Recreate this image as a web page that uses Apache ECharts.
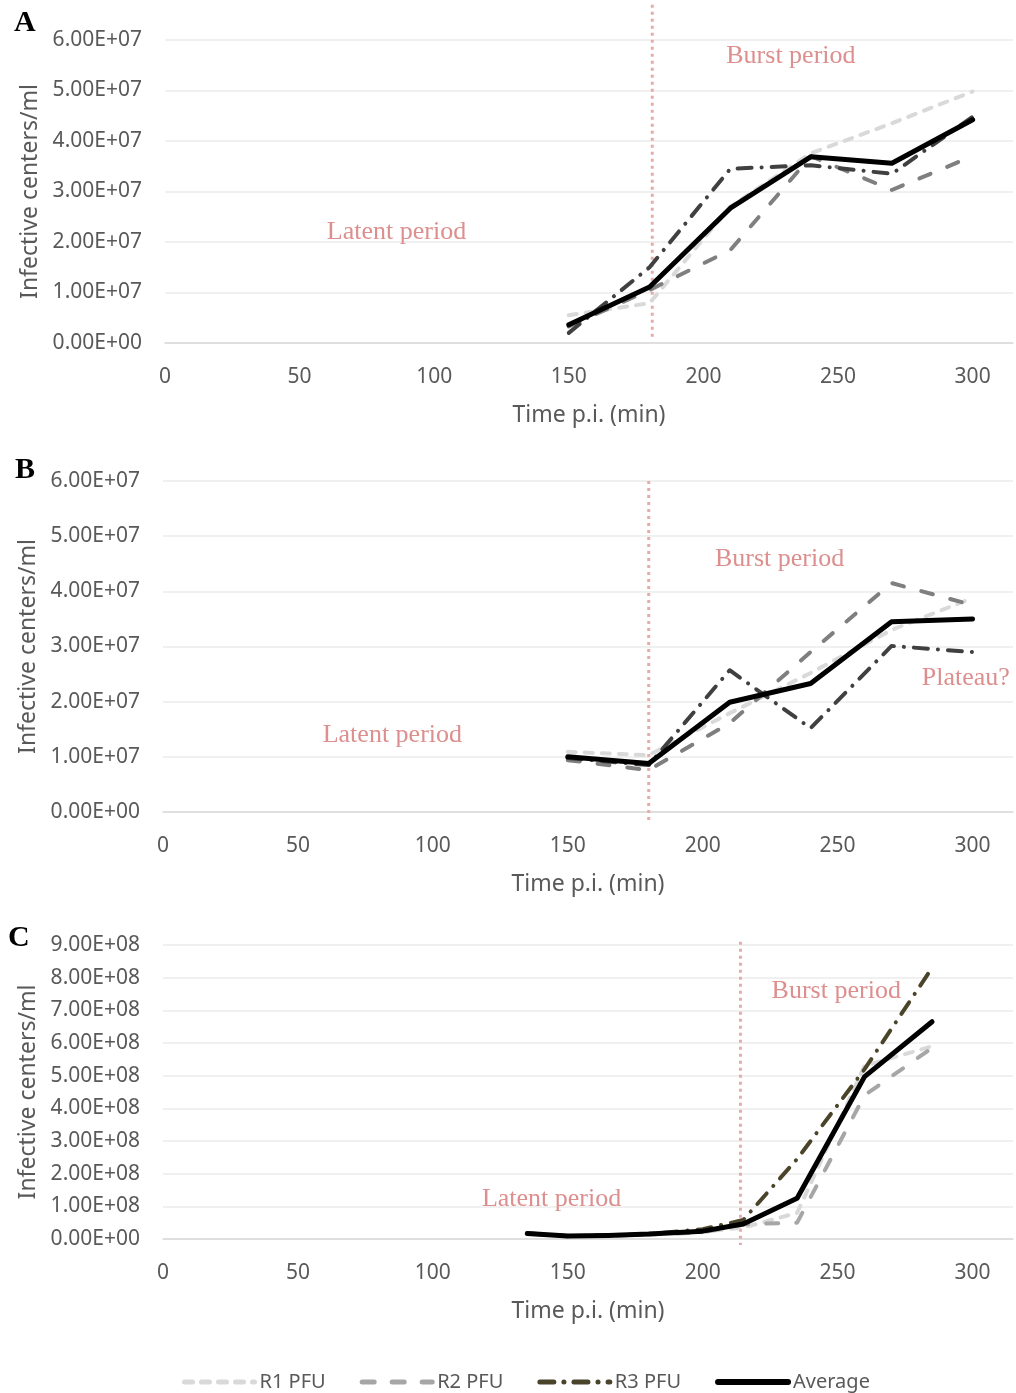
<!DOCTYPE html>
<html>
<head>
<meta charset="utf-8">
<script src="https://cdn.jsdelivr.net/npm/echarts@6/dist/echarts.min.js"></script>
<style>
  html, body { margin: 0; padding: 0; background: #fff; }
  #chart { width: 1016px; height: 1393px; }
</style>
</head>
<body>
<div id="chart"></div>
<script>
// panel A
const timeA = [150, 180, 210, 240, 270, 300]
const r1A = [0.55e7, 0.79e7, 2.7e7, 3.76e7, 4.35e7, 4.98e7]
const r2A = [0.33e7, 1.05e7, 1.84e7, 3.7e7, 3.03e7, 3.7e7]
const r3A = [0.2e7, 1.5e7, 3.45e7, 3.52e7, 3.35e7, 4.48e7]
const avgA = [0.36e7, 1.11e7, 2.67e7, 3.69e7, 3.56e7, 4.42e7]

// panel B
const timeB = [150, 180, 210, 240, 270, 300]
const r1B = [1.09e7, 1.03e7, 1.79e7, 2.52e7, 3.3e7, 3.88e7]
const r2B = [0.94e7, 0.76e7, 1.61e7, 2.9e7, 4.15e7, 3.75e7]
const r3B = [0.98e7, 0.85e7, 2.57e7, 1.52e7, 3.01e7, 2.9e7]
const avgB = [1.0e7, 0.88e7, 1.99e7, 2.33e7, 3.45e7, 3.5e7]

// panel C
const timeC = [135, 150, 165, 180, 200, 215, 235, 260, 285]
const r1C = [1.6e7, 1.0e7, 1.2e7, 1.6e7, 2.2e7, 3.5e7, 0.8e8, 5.3e8, 5.9e8]
const r2C = [1.8e7, 0.8e7, 1.0e7, 1.4e7, 2.0e7, 4.5e7, 0.5e8, 4.4e8, 5.85e8]
const r3C = [1.7e7, 0.9e7, 1.1e7, 1.5e7, 3.0e7, 5.8e7, 2.45e8, 5.2e8, 8.3e8]
const avgC = [1.7e7, 0.9e7, 1.1e7, 1.5e7, 2.4e7, 4.6e7, 1.25e8, 4.97e8, 6.65e8]

const xTicks = [0, 50, 100, 150, 200, 250, 300]
const yMaxes = [6e7, 6e7, 9e8]
const yIntervals = [1e7, 1e7, 1e8]

const seriesNames = ['R1 PFU', 'R2 PFU', 'R3 PFU', 'Average']
const panelLetters = ['A', 'B', 'C']

// start of burst (dotted line), in data units
const burstStart = [
  { x: 181, y0: 6.7e7, y1: 0.12e7 },
  { x: 180, y0: 6.0e7, y1: -0.15e7 },
  { x: 214, y0: 9.1e8, y1: -0.18e8 },
]

// annotations, in data units
const notes = [
  [{ text: 'Burst period', x: 232.5, y: 5.68e7 }, { text: 'Latent period', x: 86, y: 2.2e7 }],
  [{ text: 'Burst period', x: 228.5, y: 4.59e7 }, { text: 'Plateau?', x: 297.5, y: 2.43e7 }, { text: 'Latent period', x: 85, y: 1.4e7 }],
  [{ text: 'Burst period', x: 249.5, y: 7.59e8 }, { text: 'Latent period', x: 144, y: 1.22e8 }],
]

const panels = [
  { time: timeA, values: [r1A, r2A, r3A, avgA], colors: ['#d9d9d9', '#7f7f7f', '#404040', '#000000'] },
  { time: timeB, values: [r1B, r2B, r3B, avgB], colors: ['#d9d9d9', '#7f7f7f', '#404040', '#000000'] },
  { time: timeC, values: [r1C, r2C, r3C, avgC], colors: ['#d9d9d9', '#a6a6a6', '#4a452a', '#000000'] },
]

const grids = [
  { left: 165, top: 40, width: 851, height: 303 },
  { left: 163, top: 481, width: 853, height: 331 },
  { left: 163, top: 945, width: 853, height: 294 },
]
const letterPos = [[14, 8], [15, 455], [8, 923]]

const dashes = [[8, 9], [12, 18], [14, 10, 0.1, 10], 'solid']
const widths = [4, 4, 4, 5]

const labelColor = '#595959'
const noteColor = '#dc8f8e'

function sci(v) {
  if (v === 0) return '0.00E+00'
  const e = Math.floor(Math.log10(v) + 1e-9)
  const m = v / Math.pow(10, e)
  return m.toFixed(2) + 'E+' + String(e).padStart(2, '0')
}

const chart = echarts.init(document.getElementById('chart'), null, { renderer: 'canvas' })

let series = []
panels.forEach((p, i) => {
  p.values.forEach((vals, k) => {
    series.push({
      name: seriesNames[k],
      type: 'line',
      xAxisIndex: i,
      yAxisIndex: i,
      data: p.time.map((t, j) => [t, vals[j]]),
      symbol: 'none',
      showSymbol: false,
      z: 2 + k,
      lineStyle: {
        color: p.colors[k],
        width: widths[k],
        type: dashes[k],
        cap: 'round',
        join: 'round'
      },
      itemStyle: { color: p.colors[k] },
    })
  })
})

const option = {
  animation: false,
  backgroundColor: '#fff',
  grid: grids,
  xAxis: grids.map((g, i) => ({
    type: 'value',
    gridIndex: i,
    min: 0,
    max: 315,
    interval: 50,
    name: 'Time p.i. (min)',
    nameLocation: 'middle',
    nameGap: 61,
    nameTextStyle: { color: labelColor, fontSize: 23, fontFamily: 'Noto Sans' },
    axisLine: { show: true, lineStyle: { color: '#d9d9d9', width: 1.5 } },
    axisTick: { show: false },
    splitLine: { show: false },
    axisLabel: {
      color: labelColor,
      fontSize: 21,
      fontFamily: 'Noto Sans',
      margin: 24,
      formatter: v => xTicks.indexOf(v) >= 0 ? String(v) : ''
    },
  })),
  yAxis: grids.map((g, i) => ({
    type: 'value',
    gridIndex: i,
    min: 0,
    max: yMaxes[i],
    interval: yIntervals[i],
    name: 'Infective centers/ml',
    nameLocation: 'middle',
    nameRotate: 90,
    nameGap: 120,
    nameTextStyle: { color: labelColor, fontSize: 23, fontFamily: 'Noto Sans' },
    axisLine: { show: false },
    axisTick: { show: false },
    splitLine: { show: true, lineStyle: { color: '#ebebeb', width: 1.5 } },
    axisLabel: {
      color: labelColor,
      fontSize: 21,
      fontFamily: 'Noto Sans',
      margin: 23,
      formatter: v => sci(v)
    },
  })),
  legend: {
    left: 177,
    top: 1367,
    itemWidth: 70,
    itemHeight: 14,
    itemGap: 34,
    textStyle: { color: labelColor, fontSize: 20, fontFamily: 'Noto Sans' },
    itemStyle: { opacity: 0 },
    data: seriesNames.map((n, k) => ({
      name: n,
      lineStyle: { color: panels[2].colors[k], width: widths[k] + 1, type: dashes[k], cap: 'round' },
      itemStyle: { color: panels[2].colors[k], opacity: 0 },
    })),
  },
  series: series,
}

chart.setOption(option)

// dotted lines, notes and panel letters, placed through the axes
let graphic = []
burstStart.forEach((b, i) => {
  const p0 = chart.convertToPixel({ xAxisIndex: i, yAxisIndex: i }, [b.x, b.y0])
  const p1 = chart.convertToPixel({ xAxisIndex: i, yAxisIndex: i }, [b.x, b.y1])
  graphic.push({
    type: 'line',
    z: 1,
    shape: { x1: p0[0], y1: p0[1], x2: p1[0], y2: p1[1] },
    style: { stroke: '#e8abab', lineWidth: 3, lineDash: [3, 4] },
  })
})
notes.forEach((list, i) => {
  list.forEach(n => {
    const p = chart.convertToPixel({ xAxisIndex: i, yAxisIndex: i }, [n.x, n.y])
    graphic.push({
      type: 'text',
      z: 10,
      x: p[0],
      y: p[1],
      style: {
        text: n.text,
        fill: noteColor,
        font: '26px "Liberation Serif"',
        align: 'center',
        verticalAlign: 'middle',
      },
    })
  })
})
panelLetters.forEach((l, i) => {
  graphic.push({
    type: 'text',
    x: letterPos[i][0],
    y: letterPos[i][1],
    style: { text: l, fill: '#000', font: 'bold 30px "Liberation Serif"' },
  })
})
chart.setOption({ graphic: graphic })
</script>
</body>
</html>
